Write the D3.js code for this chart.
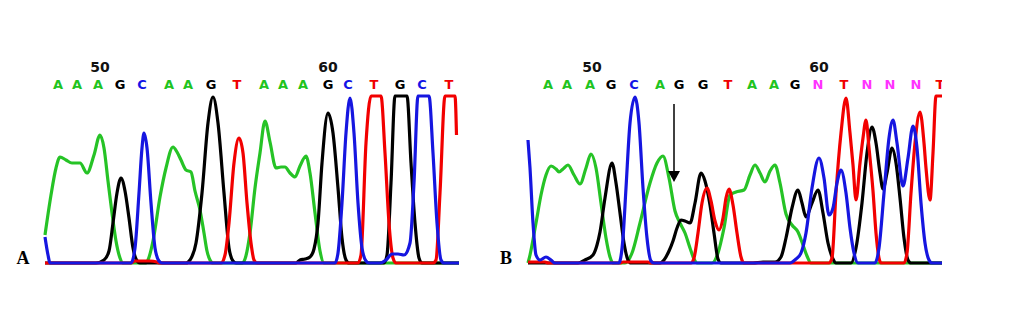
<!DOCTYPE html>
<html>
<head>
<meta charset="utf-8">
<script src="https://cdn.jsdelivr.net/npm/d3@7/dist/d3.min.js"></script>
<style>
  html, body { margin: 0; padding: 0; background: #fff; }
  svg { display: block; }
</style>
</head>
<body>
<svg id="chart" width="1022" height="324"></svg>
<script>
// Sequencing traces for two samples (A: reference, B: mixed read).
// x = scan position within the shown window, y = signal intensity.

// ---- Panel A ----
const callsA = ["A","A","A","G","C","A","A","G","T","A","A","A","G","C","T","G","C","T"];
const callPosA = [13, 32, 53, 75, 97, 124, 143, 166, 192, 219, 238, 258, 283, 303, 329, 355, 377, 404];
const tickLabelsA = ["50", "60"];
const tickPosA = [55, 283];

const greenA = [[0,28],[6,68],[11,95],[15,106],[21,103],[27,100],[35,100],[42,90],[49,108],[55,128],[59,115],[63,82],[67,50],[71,22],[75,5],[78,0],
  [101,0],[103,3],[108,22],[115,66],[121,95],[128,116],[132,111],[136,103],[141,93],[146,91],[150,72],[155,53],[159,30],[162,12],[165,3],[168,0],
  [197,0],[200,4],[205,30],[210,75],[215,110],[220,142],[225,121],[231,95],[236,96],[240,96],[245,90],[250,86],[255,97],[261,107],[265,90],[270,50],[275,12],[279,0],[414,0]];
const blackA = [[0,0],[51,0],[59,3],[64,12],[68,40],[72,70],[76,85],[80,72],[84,45],[88,15],[91,4],[95,0],
  [141,0],[145,3],[151,20],[157,70],[163,140],[168,166],[173,140],[179,70],[184,15],[188,2],[191,0],
  [251,0],[255,3],[260,4],[265,6],[269,14],[273,40],[277,100],[283,150],[288,130],[293,75],[297,25],[301,3],[304,0],
  [339,0],[342,8],[346,80],[350,167],[362,167],[366,100],[370,40],[374,5],[377,0],[414,0]];
const redA = [[0,0],[86,0],[90,2],[105,2],[112,1],[115,0],
  [176,0],[180,8],[184,40],[189,100],[194,125],[198,110],[202,60],[206,20],[209,3],[212,0],
  [313,0],[316,8],[321,120],[326,167],[336,167],[340,110],[344,40],[348,5],[351,0],
  [388,0],[391,3],[395,70],[400,167],[410,167],[411.5,128]];
const blueA = [[0,26],[3,8],[5,0],[86,0],[90,15],[94,70],[97,115],[99,130],[102,115],[106,60],[110,15],[114,2],[117,0],
  [290,0],[293,10],[297,60],[301,130],[305,165],[309,130],[313,60],[317,15],[321,2],[324,0],
  [335,0],[341,3],[347,9],[353,9],[359,8],[365,20],[369,80],[373,167],[384,167],[388,110],[392,40],[396,3],[399,0],[414,0]];

// ---- Panel B ----
const callsB = ["A","A","A","G","C","A","G","G","T","A","A","G","N","T","N","N","N","T"];
const callPosB = [20, 39, 62, 83, 106, 132, 151, 175, 200, 224, 246, 267, 290, 316, 339, 362, 388, 412];
const tickLabelsB = ["50", "60"];
const tickPosB = [64, 291];

const greenB = [[0,0],[2,8],[8,40],[13,68],[18,88],[23,97],[28,94],[31,91],[35,94],[40,98],[46,88],[52,79],[58,95],[63,109],[68,95],[73,60],[78,25],[82,6],[85,0],
  [97,0],[104,10],[112,40],[122,80],[129,100],[135,107],[141,85],[147,52],[152,40],[157,30],[162,15],[166,4],[169,0],
  [184,0],[190,10],[196,35],[202,68],[208,71],[216,73],[222,88],[227,98],[232,90],[237,81],[242,92],[247,98],[252,80],[258,49],[264,38],[270,31],[275,18],[279,7],[283,0],[414,0]];
const blackB = [[0,0],[50,0],[57,3],[65,8],[69,18],[72,31],[77,65],[84,100],[88,80],[92,50],[96,20],[100,3],[103,0],
  [132,0],[136,3],[141,12],[145,22],[149,35],[153,43],[157,42],[162,40],[167,60],[173,90],[177,82],[182,58],[186,30],[190,4],[193,0],
  [225,0],[235,1],[247,1],[253,6],[258,25],[264,55],[270,73],[274,60],[278,46],[284,60],[290,73],[295,50],[300,20],[305,4],[308,0],
  [323,0],[328,15],[334,60],[339,110],[344,136],[348,120],[352,90],[355,74],[359,90],[364,115],[368,100],[372,65],[376,25],[380,3],[383,0],[414,0]];
const redB = [[0,1],[17,1],[20,0],[92,0],[95,1],[120,1],[123,0],
  [163,0],[166,5],[170,30],[174,60],[179,75],[183,62],[187,42],[191,33],[195,45],[198,65],[201,74],[205,58],[209,30],[213,6],[216,0],
  [301,0],[304,5],[308,70],[313,130],[318,165],[322,130],[325,98],[328,63],[332,100],[335,125],[338,143],[341,115],[345,72],[348,30],[351,5],[353,0],
  [376,0],[379,10],[383,70],[387,120],[392,151],[396,120],[398,95],[402,63],[405,110],[408,167],[414,167]];
const blueB = [[0,123],[2,95],[5,40],[8,8],[12,3],[18,6],[23,3],[27,0],
  [91,0],[92,2],[95,25],[98,75],[102,140],[107,166],[111,140],[115,75],[119,25],[123,2],[126,0],
  [262,0],[268,4],[273,10],[278,30],[284,75],[291,105],[296,85],[301,48],[305,55],[309,80],[313,93],[318,70],[322,35],[326,10],[330,0],
  [347,0],[351,15],[356,70],[361,125],[365,143],[369,120],[375,77],[380,105],[385,137],[389,115],[393,60],[397,20],[401,3],[404,0],[414,0]];

// Arrow marking the first mixed position in B (scan position, intensity range)
const arrowB = { pos: 146, from: 159, to: 81 };

const colors = { A: "#1fc41f", C: "#1414e6", G: "#000000", T: "#f00000", N: "#ff33ff" };
const traceColors = { green: "#26c326", blue: "#1616e0", black: "#000000", red: "#f20000" };

const svg = d3.select("#chart");
const defs = svg.append("defs");

function panel(opts) {
  const x = d3.scaleLinear().domain([0, 414]).range([opts.left, opts.left + 414]);
  const y = d3.scaleLinear().domain([0, 167]).range([263, 96]);
  const clipId = "clip" + opts.id;
  defs.append("clipPath").attr("id", clipId)
    .append("rect").attr("x", opts.left - 2).attr("y", 60).attr("width", 416).attr("height", 206);

  const g = svg.append("g").attr("clip-path", `url(#${clipId})`);
  const line = d3.line().x(d => x(d[0])).y(d => y(Math.min(d[1], 167))).curve(d3.curveMonotoneX);

  opts.traces.forEach(t => {
    g.append("path").datum(t.data)
      .attr("d", line)
      .attr("fill", "none")
      .attr("stroke", t.color)
      .attr("stroke-width", 3.2)
      .attr("stroke-linejoin", "round");
  });

  // base calls
  g.selectAll("text.call").data(opts.calls.map((c, i) => ({ c, p: opts.callPos[i] })))
    .join("text")
    .attr("class", "call")
    .attr("x", d => x(d.p))
    .attr("y", 89)
    .attr("text-anchor", "middle")
    .attr("font-family", "DejaVu Sans, Verdana, sans-serif")
    .attr("font-weight", "bold")
    .attr("font-size", 13)
    .attr("fill", d => colors[d.c])
    .text(d => d.c);

  // position ticks
  svg.selectAll("text.tick" + opts.id).data(opts.tickLabels.map((t, i) => ({ t, p: opts.tickPos[i] })))
    .join("text")
    .attr("x", d => x(d.p))
    .attr("y", 72)
    .attr("text-anchor", "middle")
    .attr("font-family", "DejaVu Sans, Verdana, sans-serif")
    .attr("font-weight", "bold")
    .attr("font-size", 14)
    .attr("fill", "#111")
    .text(d => d.t);

  // panel letter
  svg.append("text")
    .attr("x", opts.left - 22)
    .attr("y", 264)
    .attr("text-anchor", "middle")
    .attr("font-family", "Liberation Serif, DejaVu Serif, serif")
    .attr("font-weight", "bold")
    .attr("font-size", 18)
    .attr("fill", "#000")
    .text(opts.id);

  return { x, y, g };
}

panel({
  id: "A", left: 45,
  calls: callsA, callPos: callPosA, tickLabels: tickLabelsA, tickPos: tickPosA,
  traces: [
    { data: greenA, color: traceColors.green },
    { data: blackA, color: traceColors.black },
    { data: redA, color: traceColors.red },
    { data: blueA, color: traceColors.blue }
  ]
});

const pB = panel({
  id: "B", left: 528,
  calls: callsB, callPos: callPosB, tickLabels: tickLabelsB, tickPos: tickPosB,
  traces: [
    { data: greenB, color: traceColors.green },
    { data: blackB, color: traceColors.black },
    { data: redB, color: traceColors.red },
    { data: blueB, color: traceColors.blue }
  ]
});

// arrow
const ax = pB.x(arrowB.pos);
const yTop = pB.y(arrowB.from);
const yTip = pB.y(arrowB.to);
svg.append("line")
  .attr("x1", ax).attr("x2", ax)
  .attr("y1", yTop).attr("y2", yTip - 8)
  .attr("stroke", "#000").attr("stroke-width", 1.5);
svg.append("path")
  .attr("d", `M${ax - 6},${yTip - 11} L${ax + 6},${yTip - 11} L${ax},${yTip} Z`)
  .attr("fill", "#000");
</script>
</body>
</html>
